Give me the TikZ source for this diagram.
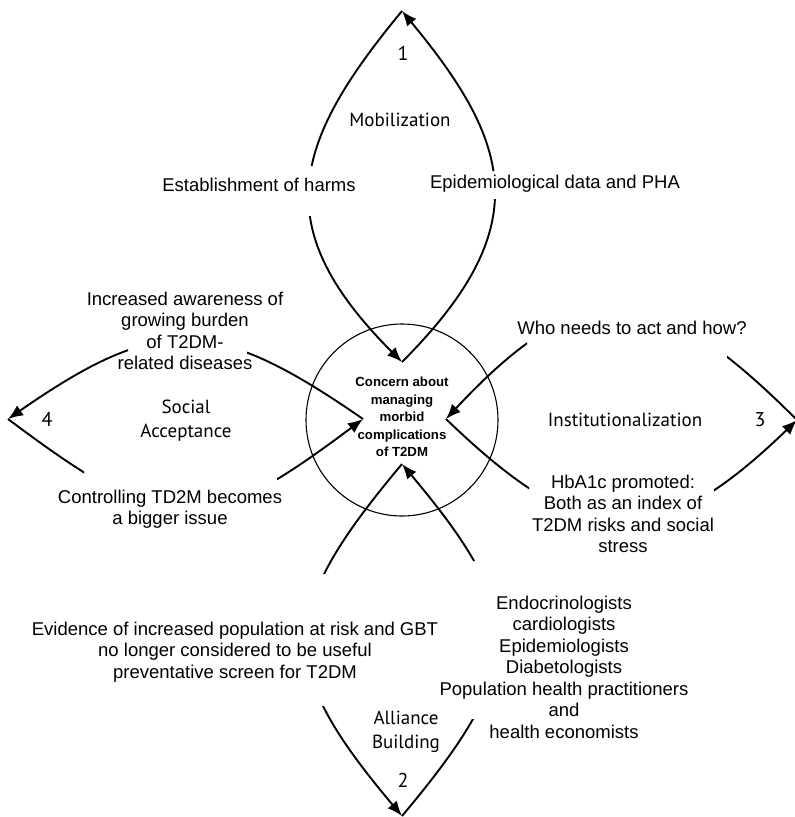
\documentclass[tikz,border=0pt]{standalone}
\usepackage{fontspec}
\setmainfont{Liberation Sans}
\newfontfamily\myriad{PT Sans}
\usetikzlibrary{arrows.meta,calc}
\begin{document}
\begin{tikzpicture}[x=1pt,y=-1pt,
  lens/.style={line width=1.9pt},
  arr/.style={-{Latex[length=15pt,width=12pt]}},
  lbl/.style={font=\fontsize{18.5}{21.5}\selectfont, align=center, inner sep=0pt},
  ctext/.style={font=\bfseries\fontsize{13.2}{17.5}\selectfont, align=center, inner sep=0pt},
  stage/.style={font=\myriad\fontsize{19}{24}\selectfont, align=center, inner sep=0pt},
  num/.style={font=\myriad\fontsize{20}{24}\selectfont, inner sep=0pt},
]
\useasboundingbox (0,0) rectangle (795,817);
\fill[white] (0,0) rectangle (795,817);

% centre circle
\coordinate (O) at (402,420);
\draw[line width=1.1pt] (O) circle[radius=96];

% vertices inside the circle and apexes
\coordinate (T) at (402,362);
\coordinate (R) at (446,419);
\coordinate (B) at (402,464);
\coordinate (L) at (363,419);
\coordinate (A1) at (402,11);
\coordinate (A3) at (797,420);
\coordinate (A2) at (402,816);
\coordinate (A4) at (8,419);

\begin{scope}[even odd rule]
  \clip (-60,-60) -- (860,-60) -- (860,880) -- (-60,880) -- cycle
    (270,166) -- (270,216) -- (345,216) -- (345,166) -- cycle
    (460,171) -- (460,199) -- (530,199) -- (530,171) -- cycle
    (527,250) -- (527,400) -- (727,400) -- (727,250) -- cycle
    (529,440) -- (529,600) -- (714,600) -- (714,440) -- cycle
    (260,574) -- (260,706) -- (360,706) -- (360,574) -- cycle
    (450,561) -- (450,719) -- (540,719) -- (540,561) -- cycle
    (128,280) -- (128,400) -- (247,400) -- (247,280) -- cycle
    (84,440) -- (84,560) -- (277,560) -- (277,440) -- cycle;
  % 1 Mobilization
  \draw[lens,arr] (A1) .. controls (291,145) and (268,228) .. (T);
  \draw[lens,arr] (T) .. controls (536,228) and (513,145) .. (A1);
  % 3 Institutionalization
  \draw[lens,arr] (A3) .. controls (657,280) and (586,269) .. (R);
  \draw[lens,arr] (R) .. controls (586,554) and (657,555) .. (A3);
  % 2 Alliance building
  \draw[lens,arr] (B) .. controls (276,614) and (276,666) .. (A2);
  \draw[lens,arr] (A2) .. controls (528,666) and (528,614) .. (B);
  % 4 Social acceptance
  \draw[lens,arr] (L) .. controls (213,315) and (158,315) .. (A4);
  \draw[lens,arr] (A4) .. controls (168,539) and (203,539) .. (L);
\end{scope}

% texts
\node[ctext] (concern) at (402,417) {Concern about\\managing\\morbid\\complications\\of T2DM};
\node[lbl] (harms) at (259,185) {Establishment of harms};
\node[lbl] (epi) at (555,184) {Epidemiological data and PHA};
\node[lbl] (aware) at (185,331) {Increased awareness of\\growing burden\\of T2DM-\\related diseases};
\node[lbl] (who) at (632,328) {Who needs to act and how?};
\node[lbl] (ctrl) at (170,509) {Controlling TD2M becomes\\a bigger issue};
\node[lbl] (hba) at (623,514) {HbA1c promoted:\\Both as an index of\\T2DM risks and social\\stress};
\node[lbl] (evid) at (235,652) {Evidence of increased population at risk and GBT\\no longer considered to be useful\\preventative screen for T2DM};
\node[lbl] (endo) at (564,667) {Endocrinologists\\cardiologists\\Epidemiologists\\Diabetologists\\Population health practitioners\\and\\health economists};

\node[stage] (mob) at (400,120) {Mobilization};
\node[stage] (soc) at (186,421) {Social\\Acceptance};
\node[stage] (inst) at (625,420) {Institutionalization};
\node[stage] (all) at (406,732) {Alliance\\Building};

\node[num] (n1) at (403,53) {1};
\node[num] (n4) at (47,419) {4};
\node[num] (n3) at (760,420) {3};
\node[num] (n2) at (403,780) {2};
\end{tikzpicture}
\end{document}
